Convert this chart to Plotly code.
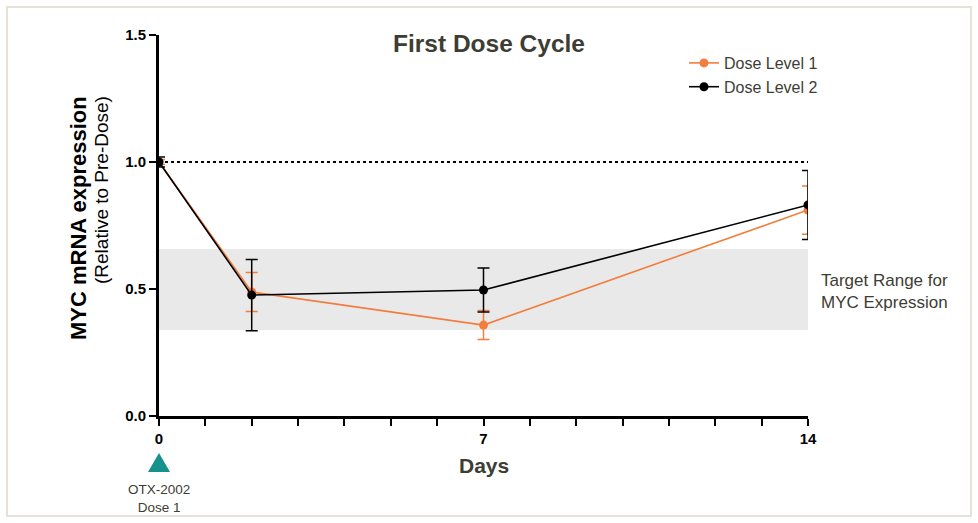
import plotly.graph_objects as go

days = [0, 2, 7, 14]
dose1 = [1.0, 0.488, 0.358, 0.811]
dose1_err = [0.01, 0.077, 0.057, 0.095]
dose2 = [1.0, 0.476, 0.496, 0.831]
dose2_err = [0.02, 0.14, 0.087, 0.136]
target_low, target_high = 0.339, 0.657
baseline = 1.0
x_ticks = list(range(0, 15))
x_ticklabels = ["0", "", "", "", "", "", "", "7", "", "", "", "", "", "", "14"]
y_ticks = [0.0, 0.5, 1.0, 1.5]
y_ticklabels = ["0.0", "0.5", "1.0", "1.5"]

ORANGE = "#f47c3c"
TXT = "#3d3d33"
FONT = "Liberation Sans, Arial, sans-serif"

# plot-area pixel geometry helpers
L, R, T, B = 159, 808, 35, 416
W, H = R - L, B - T
def px(xp):
    return (xp - L) / W
def py(yp):
    return (B - yp) / H

fig = go.Figure()

# target band
fig.add_shape(type="rect", xref="x", yref="y", x0=0, x1=14, y0=target_low, y1=target_high,
              fillcolor="#e9e9e9", line=dict(width=0), layer="below")
# baseline dotted
fig.add_shape(type="line", xref="x", yref="y", x0=0, x1=14, y0=baseline, y1=baseline,
              line=dict(color="black", width=2, dash="dot"), layer="below")

fig.add_trace(go.Scatter(
    x=days, y=dose1, mode="lines+markers", name="Dose Level 1",
    line=dict(color=ORANGE, width=1.6), marker=dict(color=ORANGE, size=9),
    error_y=dict(type="data", array=dose1_err, color=ORANGE, thickness=1.5, width=6),
))
fig.add_trace(go.Scatter(
    x=days, y=dose2, mode="lines+markers", name="Dose Level 2",
    line=dict(color="black", width=1.6), marker=dict(color="black", size=9),
    error_y=dict(type="data", array=dose2_err, color="black", thickness=1.5, width=6),
))

fig.update_xaxes(range=[0, 14], tickvals=x_ticks, ticktext=x_ticklabels,
                 ticks="outside", ticklen=7, tickwidth=2, tickcolor="black",
                 showline=True, linecolor="black", linewidth=3, showgrid=False, zeroline=False,
                 tickfont=dict(family=FONT, size=15, color="black", weight="bold"),
                 title=None, fixedrange=True)
fig.update_yaxes(range=[0, 1.5], tickvals=y_ticks, ticktext=y_ticklabels,
                 ticks="outside", ticklen=7, tickwidth=2, tickcolor="black",
                 showline=True, linecolor="black", linewidth=3, showgrid=False, zeroline=False,
                 tickfont=dict(family=FONT, size=15, color="black", weight="bold"),
                 title=None, fixedrange=True)

annotations = [
    dict(text="<b>First Dose Cycle</b>", x=px(489), y=py(43), xref="paper", yref="paper",
         xanchor="center", yanchor="middle", showarrow=False,
         font=dict(family=FONT, size=24.5, color=TXT)),
    dict(text="<b>Days</b>", x=7, xref="x", y=py(466), yref="paper", showarrow=False,
         xanchor="center", yanchor="middle", font=dict(family=FONT, size=21, color=TXT)),
    dict(text="<b>MYC mRNA expression</b>", x=px(78), xref="paper", y=py(218), yref="paper",
         xanchor="center", yanchor="middle",
         textangle=-90, showarrow=False, font=dict(family=FONT, size=22, color="black")),
    dict(text="(Relative to Pre-Dose)", x=px(101), xref="paper", y=py(190), yref="paper",
         xanchor="center", yanchor="middle",
         textangle=-90, showarrow=False, font=dict(family=FONT, size=19, color="black")),
    dict(text="Target Range for<br>MYC Expression", x=px(819), xref="paper", y=py(291),
         yref="paper", xanchor="left", yanchor="middle", align="left", showarrow=False,
         font=dict(family=FONT, size=17, color=TXT)),
    dict(text="OTX-2002<br>Dose 1", x=0, xref="x", y=py(480), yref="paper", showarrow=False,
         xanchor="center", yanchor="top", font=dict(family=FONT, size=13.5, color=TXT)),
]
fig.update_layout(annotations=annotations)

# dose marker triangle (decoration below the axis)
fig.add_shape(type="path", xref="paper", yref="paper", xsizemode="pixel", ysizemode="pixel",
              xanchor=px(159), yanchor=py(463), path="M -11,-9 L 11,-9 L 0,10 Z",
              fillcolor="#17918b", line=dict(width=0))

# outer frame
fig.add_shape(type="rect", xref="paper", yref="paper",
              x0=px(7), x1=px(971), y0=py(516), y1=py(7),
              line=dict(color="#e6e2d6", width=2), fillcolor="rgba(0,0,0,0)", layer="below")

fig.update_layout(
    width=978, height=523,
    margin=dict(l=L, r=978 - R, t=T, b=523 - B),
    paper_bgcolor="white", plot_bgcolor="white",
    showlegend=True,
    legend=dict(x=px(684), y=py(46), xanchor="left", yanchor="top",
                bgcolor="rgba(0,0,0,0)", font=dict(family=FONT, size=16, color=TXT),
                tracegroupgap=0, itemwidth=30),
)

fig.write_html("out.html", config={"displayModeBar": False},
               post_script="document.body.style.margin='0';")
